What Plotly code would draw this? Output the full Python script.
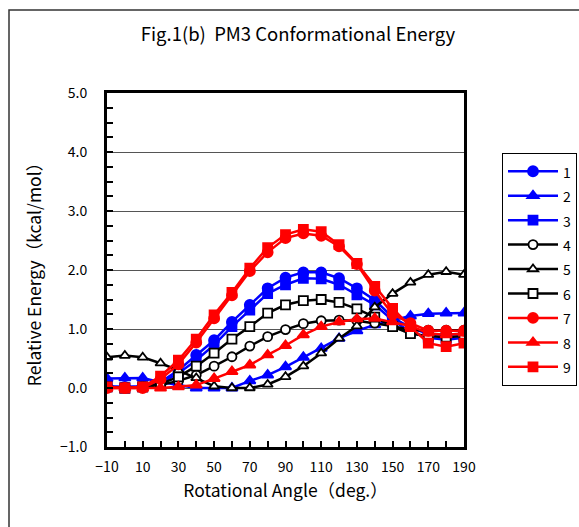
import plotly.graph_objects as go

angles = [-10, 0, 10, 20, 30, 40, 50, 60, 70, 80, 90, 100, 110, 120, 130, 140, 150, 160, 170, 180, 190]

s1 = [0.03, 0.02, 0.03, 0.10, 0.30, 0.56, 0.81, 1.12, 1.41, 1.69, 1.87, 1.96, 1.96, 1.86, 1.69, 1.49, 1.20, 1.02, 0.92, 0.90, 0.92]
s2 = [0.16, 0.17, 0.17, 0.10, 0.05, 0.00, 0.00, 0.00, 0.12, 0.22, 0.36, 0.52, 0.67, 0.84, 0.97, 1.07, 1.15, 1.22, 1.26, 1.27, 1.27]
s3 = [0.02, 0.00, 0.02, 0.08, 0.25, 0.47, 0.73, 1.04, 1.32, 1.60, 1.75, 1.86, 1.85, 1.75, 1.58, 1.41, 1.15, 0.95, 0.85, 0.82, 0.85]
s4 = [0.02, 0.00, 0.02, 0.05, 0.12, 0.22, 0.37, 0.53, 0.71, 0.87, 0.99, 1.09, 1.14, 1.15, 1.14, 1.10, 1.05, 0.98, 0.98, 0.98, 0.98]
s5 = [0.52, 0.55, 0.52, 0.42, 0.30, 0.17, 0.03, 0.00, 0.00, 0.06, 0.19, 0.37, 0.59, 0.84, 1.05, 1.37, 1.60, 1.79, 1.92, 1.97, 1.92]
s6 = [0.02, 0.00, 0.02, 0.07, 0.19, 0.37, 0.59, 0.83, 1.04, 1.27, 1.41, 1.48, 1.50, 1.45, 1.34, 1.20, 1.04, 0.92, 0.88, 0.86, 0.88]
s7 = [0.00, 0.00, 0.00, 0.15, 0.40, 0.77, 1.18, 1.57, 1.98, 2.30, 2.54, 2.62, 2.58, 2.40, 2.10, 1.65, 1.25, 1.10, 0.97, 0.97, 0.97]
s8 = [0.00, 0.00, 0.00, 0.00, 0.02, 0.05, 0.16, 0.28, 0.39, 0.56, 0.72, 0.90, 1.04, 1.12, 1.17, 1.18, 1.12, 1.05, 0.93, 0.90, 0.93]
s9 = [0.02, 0.00, 0.02, 0.20, 0.47, 0.83, 1.24, 1.62, 2.03, 2.38, 2.60, 2.69, 2.65, 2.43, 2.11, 1.72, 1.35, 1.04, 0.76, 0.70, 0.76]

series_names = ["1", "2", "3", "4", "5", "6", "7", "8", "9"]
series_values = [s1, s2, s3, s4, s5, s6, s7, s8, s9]
line_colors = ["#0000FF", "#0000FF", "#0000FF", "#000000", "#000000", "#000000", "#FF0000", "#FF0000", "#FF0000"]
fill_colors = ["#0000FF", "#0000FF", "#0000FF", "#FFFFFF", "#FFFFFF", "#FFFFFF", "#FF0000", "#FF0000", "#FF0000"]
symbols = ["circle", "triangle-up", "square"] * 3
sizes = [10, 10, 9, 9, 9, 9, 10, 10, 9]

x_ticks = [-10, 10, 30, 50, 70, 90, 110, 130, 150, 170, 190]
y_ticks = [-1, 0, 1, 2, 3, 4, 5]

FONT = "Noto Sans CJK JP, Noto Sans, sans-serif"

fig = go.Figure()
for name, vals, lc, fc, sym, sz in zip(series_names, series_values, line_colors, fill_colors, symbols, sizes):
    fig.add_trace(go.Scatter(
        x=angles, y=vals, name="<span style='font-size:14px'>" + name + "</span>", mode="lines+markers",
        line=dict(color=lc, width=2.5),
        marker=dict(symbol=sym, size=sz, color=fc, line=dict(color=lc, width=1.8)),
    ))

fig.update_layout(
    width=579, height=527,
    margin=dict(l=107, r=115, t=93, b=80, autoexpand=False),
    paper_bgcolor="white", plot_bgcolor="white",
    font=dict(family=FONT, color="black", size=13),
    title=dict(text="Fig.1(b)  PM3 Conformational Energy", x=0.535, xref="paper", xanchor="center",
               y=1 - 35 / 527, yanchor="middle", font=dict(size=18.5, family=FONT)),
    legend=dict(x=(502 - 107) / 357, y=(447 - 153) / 354, xanchor="left", yanchor="top",
                bordercolor="black", borderwidth=1, bgcolor="white", itemwidth=50,
                font=dict(size=16.5, family=FONT), tracegroupgap=0),
    showlegend=True,
)

fig.update_xaxes(
    range=[-10, 190], tickvals=x_ticks, ticks="inside", ticklen=6, tickwidth=2, tickcolor="black",
    minor=dict(dtick=10, tick0=-10, ticks="inside", ticklen=6, tickwidth=2, tickcolor="black"),
    showline=True, linewidth=3, linecolor="black", mirror=True, showgrid=False, zeroline=False,
    tickfont=dict(size=14), ticklabelstandoff=5, automargin=False,
    title=dict(text="Rotational Angle（deg.）", font=dict(size=17.5), standoff=10),
)
fig.update_yaxes(
    range=[-1, 5], tickvals=y_ticks, tickformat=".1f", ticks="inside", ticklen=6, tickwidth=2, tickcolor="black",
    minor=dict(dtick=0.25, tick0=-1, ticks="inside", ticklen=6, tickwidth=2, tickcolor="black", showgrid=False),
    showline=True, linewidth=3, linecolor="black", mirror=True,
    showgrid=True, gridcolor="#555555", gridwidth=1, zeroline=False,
    tickfont=dict(size=14), ticklabelstandoff=14, automargin=False,
    title=dict(text="Relative Energy（kcal/mol）", font=dict(size=17.5), standoff=14),
)

# chart-area frame
fig.add_shape(type="rect", xref="paper", yref="paper",
              x0=(9 - 107) / 357, x1=(620 - 107) / 357,
              y0=(447 - 560) / 354, y1=(447 - 10) / 354,
              line=dict(color="#333333", width=1.5), fillcolor="rgba(0,0,0,0)", layer="below")

fig.write_html("out.html", config={"displayModeBar": False},
               post_script="document.body.style.margin='0';document.body.style.padding='0';")
